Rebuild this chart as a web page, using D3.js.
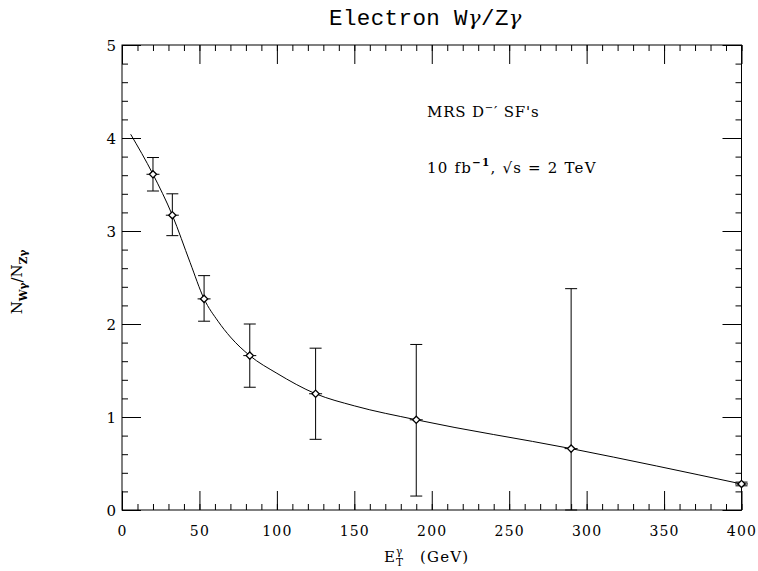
<!DOCTYPE html>
<html>
<head>
<meta charset="utf-8">
<script src="https://cdn.jsdelivr.net/npm/d3@7"></script>
<style>
  html, body { margin: 0; padding: 0; background: #fff; }
  svg { display: block; }
  text { fill: #000; }
</style>
</head>
<body>
<svg id="chart" width="758" height="571"></svg>
<script>
// Measured W-gamma / Z-gamma ratio per photon E_T bin
const etBins   = [20, 32.5, 53, 82.5, 125, 190, 290, 400];
const ratio    = [3.61, 3.17, 2.27, 1.66, 1.25, 0.97, 0.66, 0.28];
const ratioHi  = [3.79, 3.40, 2.52, 2.00, 1.74, 1.78, 2.38, 0.30];
const ratioLo  = [3.43, 2.95, 2.03, 1.32, 0.76, 0.15, 0.00, 0.26];

// Predicted ratio curve
const curveEt    = [5.6, 20, 32.5, 44, 53, 62, 70, 82.5, 100, 125, 150, 190, 290, 400];
const curveRatio = [4.04, 3.61, 3.17, 2.66, 2.27, 2.03, 1.86, 1.66, 1.47, 1.25, 1.12, 0.97, 0.66, 0.28];

// Axis tick values
const xMajorTicks = [0, 50, 100, 150, 200, 250, 300, 350, 400];
const yMajorTicks = [0, 1, 2, 3, 4, 5];

const svg = d3.select("#chart");
const plotL = 122, plotR = 741.5, plotT = 45, plotB = 510;

const x = d3.scaleLinear().domain([0, 400]).range([plotL, plotR]);
const y = d3.scaleLinear().domain([0, 5]).range([plotB, plotT]);

const xMinor = d3.range(0, 400.001, 10);
const yMinor = d3.range(0, 5.001, 0.2).map(v => +v.toFixed(1));

const tickFont = "DejaVu Serif";

function styleAxis(g) {
  g.select(".domain").remove();
  g.selectAll(".tick line").attr("stroke", "#000").attr("stroke-width", 1);
}

// Minor ticks, all four sides, pointing inward
svg.append("g").attr("transform", `translate(0,${plotB})`)
  .call(d3.axisBottom(x).tickValues(xMinor).tickSizeInner(-6).tickSizeOuter(0).tickFormat(""))
  .call(styleAxis);
svg.append("g").attr("transform", `translate(0,${plotT})`)
  .call(d3.axisTop(x).tickValues(xMinor).tickSizeInner(-6).tickSizeOuter(0).tickFormat(""))
  .call(styleAxis);
svg.append("g").attr("transform", `translate(${plotL},0)`)
  .call(d3.axisLeft(y).tickValues(yMinor).tickSizeInner(-6).tickSizeOuter(0).tickFormat(""))
  .call(styleAxis);
svg.append("g").attr("transform", `translate(${plotR},0)`)
  .call(d3.axisRight(y).tickValues(yMinor).tickSizeInner(-6).tickSizeOuter(0).tickFormat(""))
  .call(styleAxis);

// Major ticks with labels on bottom and left
const xAxis = svg.append("g").attr("transform", `translate(0,${plotB})`)
  .call(d3.axisBottom(x).tickValues(xMajorTicks).tickSizeInner(-19).tickSizeOuter(0).tickPadding(0).tickFormat(d3.format("d")))
  .call(styleAxis);
xAxis.selectAll(".tick text")
  .attr("y", 26).attr("dy", null)
  .attr("font-family", tickFont).attr("font-size", 14).attr("letter-spacing", 1.2)
  .attr("fill", "#000");

svg.append("g").attr("transform", `translate(0,${plotT})`)
  .call(d3.axisTop(x).tickValues(xMajorTicks).tickSizeInner(-19).tickSizeOuter(0).tickFormat(""))
  .call(styleAxis);

const yAxis = svg.append("g").attr("transform", `translate(${plotL},0)`)
  .call(d3.axisLeft(y).tickValues(yMajorTicks).tickSizeInner(-19).tickSizeOuter(0).tickFormat(d3.format("d")))
  .call(styleAxis);
yAxis.selectAll(".tick text")
  .attr("x", -6).attr("dy", "0.36em")
  .attr("font-family", tickFont).attr("font-size", 15)
  .attr("fill", "#000");

svg.append("g").attr("transform", `translate(${plotR},0)`)
  .call(d3.axisRight(y).tickValues(yMajorTicks).tickSizeInner(-19).tickSizeOuter(0).tickFormat(""))
  .call(styleAxis);

// Frame
svg.append("rect")
  .attr("x", plotL).attr("y", plotT)
  .attr("width", plotR - plotL).attr("height", plotB - plotT)
  .attr("fill", "none").attr("stroke", "#000").attr("stroke-width", 1);

// Prediction curve
const curvePts = curveEt.map((e, i) => [e, curveRatio[i]]);
svg.append("path")
  .datum(curvePts)
  .attr("d", d3.line().x(d => x(d[0])).y(d => y(d[1])).curve(d3.curveMonotoneX))
  .attr("fill", "none").attr("stroke", "#000").attr("stroke-width", 1);

// Data points with error bars
const pts = etBins.map((e, i) => ({ e, r: ratio[i], hi: ratioHi[i], lo: ratioLo[i] }));
const cap = 6, hbar = 6.5, dia = 3.6;
const pg = svg.append("g").attr("stroke", "#000").attr("stroke-width", 1);
pts.forEach(p => {
  const cx = x(p.e), cy = y(p.r);
  pg.append("line").attr("x1", cx).attr("x2", cx).attr("y1", y(p.hi)).attr("y2", y(p.lo));
  pg.append("line").attr("x1", cx - cap).attr("x2", cx + cap).attr("y1", y(p.hi)).attr("y2", y(p.hi));
  pg.append("line").attr("x1", cx - cap).attr("x2", cx + cap).attr("y1", y(p.lo)).attr("y2", y(p.lo));
  pg.append("line").attr("x1", cx - hbar).attr("x2", cx + hbar).attr("y1", cy).attr("y2", cy);
  pg.append("path")
    .attr("d", `M${cx},${cy - dia}L${cx + dia},${cy}L${cx},${cy + dia}L${cx - dia},${cy}Z`)
    .attr("fill", "#fff").attr("stroke-width", 1.3);
});

// Title, with math-style gammas
const title = svg.append("text")
  .attr("x", 329).attr("y", 25)
  .attr("font-family", "Liberation Mono").attr("font-size", 22.5)
  .attr("letter-spacing", 0.4);
title.append("tspan").text("Electron W");
title.append("tspan").attr("font-family", "DejaVu Serif").attr("font-style", "italic").attr("font-size", 21).text("γ");
title.append("tspan").text("/Z");
title.append("tspan").attr("font-family", "DejaVu Serif").attr("font-style", "italic").attr("font-size", 21).text("γ");

// Annotations
const ann = svg.append("g").attr("font-family", "DejaVu Serif").attr("font-size", 15);
const a1 = ann.append("text").attr("x", 427).attr("y", 117).attr("letter-spacing", 0.8);
a1.append("tspan").text("MRS D");
a1.append("tspan").attr("dy", -6).attr("font-size", 10).text("−");
a1.append("tspan").attr("dy", 6).text("′ SF's");

const a2 = ann.append("text").attr("x", 427).attr("y", 173).attr("letter-spacing", 1.2);
a2.append("tspan").text("10 fb");
a2.append("tspan").attr("dy", -7).attr("font-size", 10.5).attr("font-weight", "bold").text("−1");
a2.append("tspan").attr("dy", 7).text(", √s = 2 TeV");

// Y axis title
const yl = svg.append("text")
  .attr("transform", "translate(22,282) rotate(-90)")
  .attr("text-anchor", "middle")
  .attr("font-family", "DejaVu Serif").attr("font-size", 15);
yl.append("tspan").text("N");
yl.append("tspan").attr("dy", 5).attr("font-size", 10.5).attr("font-weight", "bold").text("Wγ");
yl.append("tspan").attr("dy", -5).text("/N");
yl.append("tspan").attr("dy", 5).attr("font-size", 10.5).attr("font-weight", "bold").text("Zγ");

// X axis title: E_T^gamma (GeV)
const xl = svg.append("g").attr("font-family", "DejaVu Serif");
const eText = xl.append("text").attr("x", 384).attr("y", 562).attr("font-size", 15).text("E");
const eW = eText.node().getComputedTextLength();
xl.append("text").attr("x", 384 + eW + 1).attr("y", 555).attr("font-size", 10.5).text("γ");
xl.append("text").attr("x", 384 + eW + 1).attr("y", 566).attr("font-size", 10.5).text("T");
xl.append("text").attr("x", 420).attr("y", 562).attr("font-size", 15).attr("letter-spacing", 1.2).text("(GeV)");
</script>
</body>
</html>
